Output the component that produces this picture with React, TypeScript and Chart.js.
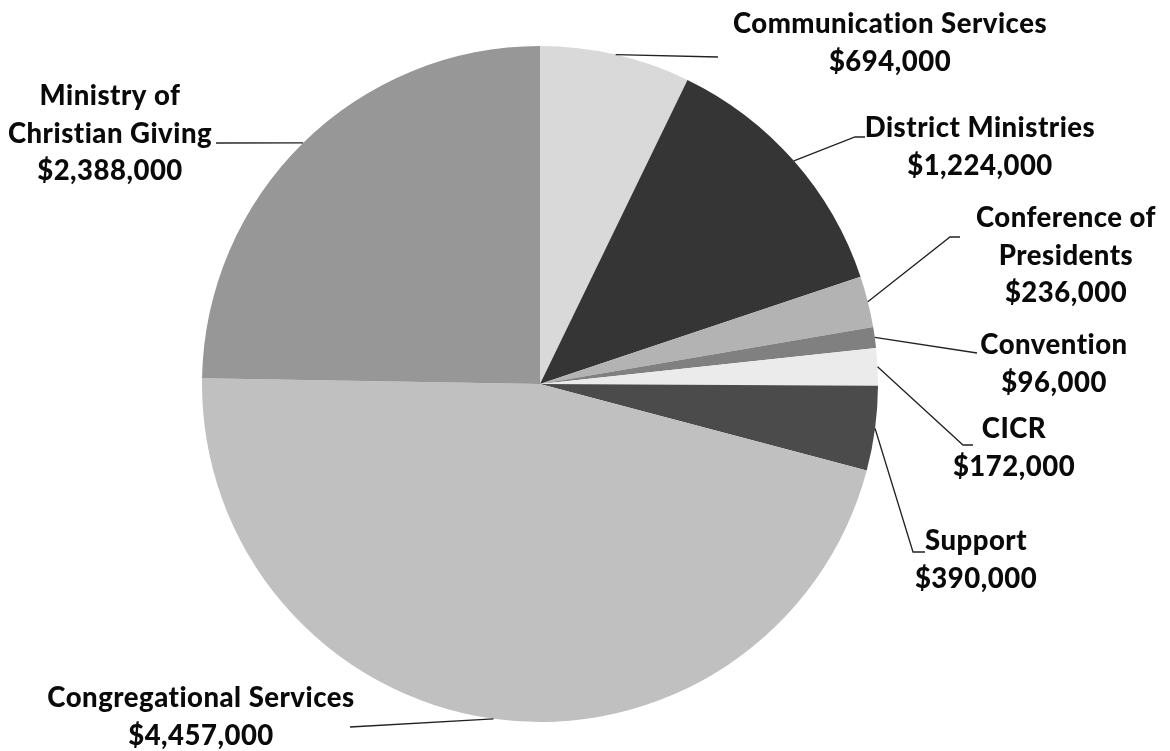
import React, { useEffect, useRef } from "react";
import { Chart, registerables } from "chart.js";

Chart.register(...registerables);

const categories = [
  "Communication Services",
  "District Ministries",
  "Conference of Presidents",
  "Convention",
  "CICR",
  "Support",
  "Congregational Services",
  "Ministry of Christian Giving",
];
const values = [694000, 1224000, 236000, 96000, 172000, 390000, 4457000, 2388000];
const labelLines = [
  ["Communication Services"],
  ["District Ministries"],
  ["Conference of", "Presidents"],
  ["Convention"],
  ["CICR"],
  ["Support"],
  ["Congregational Services"],
  ["Ministry of", "Christian Giving"],
];
const sliceColors = ["#d9d9d9", "#353535", "#b3b3b3", "#808080", "#ebebeb", "#4b4b4b", "#c0c0c0", "#979797"];

// layout (offsets from pie centre, px): label anchor = centre x / first baseline
const labelAnchor = [
  [350, -351],
  [440, -247],
  [526, -157],
  [514, -30],
  [474, 54],
  [436, 166],
  [-339, 323],
  [-430, -279],
];
// leader line points after the arc point
const leaderPts = [
  [[178, -327]],
  [[315, -247], [325, -247]],
  [[410, -147], [420, -147]],
  [[437, -31]],
  [[423, 61], [433, 61]],
  [[373, 168], [385, 168]],
  [[-190, 343]],
  [[-324, -241]],
];

const fmt = (v: number) => "$" + v.toLocaleString("en-US");

const labelPlugin = {
  id: "pieLabels",
  afterDraw(chart: any) {
    const ctx = chart.ctx;
    const meta = chart.getDatasetMeta(0);
    ctx.save();
    meta.data.forEach((arc: any, i: number) => {
      const { x, y, startAngle, endAngle, outerRadius } = arc.getProps(
        ["x", "y", "startAngle", "endAngle", "outerRadius"],
        true
      );
      const mid = (startAngle + endAngle) / 2;
      const sx = x + Math.cos(mid) * outerRadius;
      const sy = y + Math.sin(mid) * outerRadius;
      ctx.beginPath();
      ctx.moveTo(sx, sy);
      leaderPts[i].forEach((p) => ctx.lineTo(x + p[0], y + p[1]));
      ctx.strokeStyle = "#222";
      ctx.lineWidth = 1.3;
      ctx.stroke();

      const lines = [...labelLines[i], fmt(values[i])];
      ctx.fillStyle = "#0a0a0a";
      ctx.font = "900 27.5px Lato";
      try {
        (ctx as any).letterSpacing = "0.5px";
      } catch (e) {}
      ctx.textAlign = "center";
      ctx.textBaseline = "alphabetic";
      const ax = x + labelAnchor[i][0];
      const ay = y + labelAnchor[i][1];
      lines.forEach((t, k) => ctx.fillText(t, ax, ay + k * 37.5));
    });
    ctx.restore();
  },
};

export default function App() {
  const ref = useRef<HTMLCanvasElement>(null);
  useEffect(() => {
    const chart = new Chart(ref.current!, {
      type: "pie",
      data: {
        labels: categories,
        datasets: [
          {
            data: values,
            backgroundColor: sliceColors,
            borderWidth: 0,
          },
        ],
      },
      options: {
        animation: false,
        responsive: false,
        layout: { padding: { left: 202, right: 292, top: 46, bottom: 29 } },
        plugins: {
          legend: { display: false },
          tooltip: { enabled: false },
        },
      },
      plugins: [labelPlugin],
    });
    return () => chart.destroy();
  }, []);
  return (
    <div style={{ position: "absolute", left: 0, top: 0, width: 1170, height: 751, background: "#fff" }}>
      <canvas ref={ref} width={1170} height={751} />
    </div>
  );
}
